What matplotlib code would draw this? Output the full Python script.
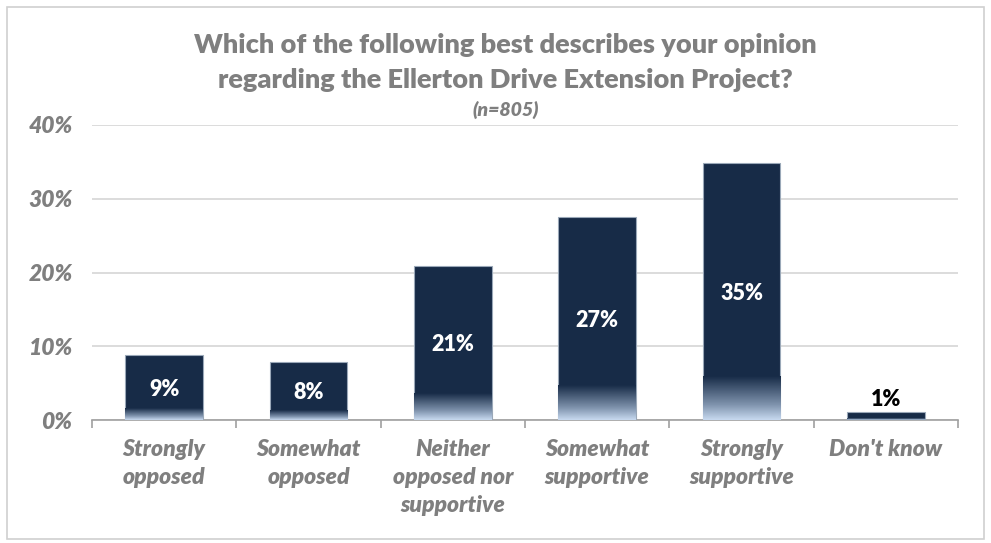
import numpy as np
import matplotlib
matplotlib.use("Agg")
import matplotlib.pyplot as plt
from matplotlib.colors import LinearSegmentedColormap
from matplotlib.patches import Rectangle

categories = ["Strongly\nopposed", "Somewhat\nopposed", "Neither\nopposed nor\nsupportive",
              "Somewhat\nsupportive", "Strongly\nsupportive", "Don't know"]
values = [8.8, 7.8, 20.9, 27.5, 34.8, 1.1]
value_labels = ["9%", "8%", "21%", "27%", "35%", "1%"]
yticks = [0, 10, 20, 30, 40]

NAVY = "#172b47"
LIGHT = "#c8daf0"
GREY = "#7f7f7f"

plt.rcParams["font.family"] = ["Lato", "DejaVu Sans"]

fig = plt.figure(figsize=(9.91, 5.43), dpi=100)
ax = fig.add_axes([0.0928, 0.2265, 0.8739, 0.5433])

# outer chart frame
fig.patches.append(Rectangle((0.007, 0.008), 0.986, 0.98, transform=fig.transFigure,
                             fill=False, edgecolor="#d0d0d0", linewidth=1.2))

x = np.arange(len(values))
bars = ax.bar(x, values, width=0.54, color=NAVY, edgecolor="#9aa8b8", linewidth=0.8, zorder=3)

# bottom fade: dark navy down to light blue over the lower part of each bar
cmap = LinearSegmentedColormap.from_list("fade", [(0, LIGHT), (0.35, "#7f93ad"), (1, NAVY)])
grad = np.linspace(0, 1, 256).reshape(-1, 1)
for bar in bars:
    h = bar.get_height()
    fade_h = h * 0.17
    bx = bar.get_x()
    bw = bar.get_width()
    im = ax.imshow(grad, cmap=cmap, aspect="auto", origin="lower",
                   extent=(bx, bx + bw, 0, fade_h), zorder=3.5)
    im.set_clip_path(bar)

for i, (v, lab) in enumerate(zip(values, value_labels)):
    if v > 5:
        ax.text(i, v / 2 - 0.2, lab, ha="center", va="center", color="white",
                fontsize=15.5, fontweight="heavy", zorder=5)
    else:
        ax.text(i, v + 0.3, lab, ha="center", va="bottom", color="black",
                fontsize=15.5, fontweight="heavy", zorder=5)

ax.set_xlim(-0.5, len(values) - 0.5)
ax.set_ylim(0, 40)
ax.set_yticks(yticks)
ax.set_yticklabels([f"{t}%" for t in yticks], fontsize=16.5, fontstyle="italic",
                   fontweight="heavy", color=GREY)
ax.tick_params(axis="y", length=0, pad=14)
ax.grid(axis="y", color="#d9d9d9", linewidth=1.3, zorder=0)

ax.set_xticks(x)
ax.set_xticklabels(categories, fontsize=16.5, fontstyle="italic", fontweight="heavy",
                   color=GREY, linespacing=1.4)
ax.tick_params(axis="x", which="major", length=0, pad=14)
ax.set_xticks(np.arange(len(values) + 1) - 0.5, minor=True)
ax.tick_params(axis="x", which="minor", length=6, color="#a0a0a0", width=1.2)

for s in ["top", "right", "left"]:
    ax.spines[s].set_visible(False)
ax.spines["bottom"].set_color("#a0a0a0")
ax.spines["bottom"].set_linewidth(1.2)
ax.set_axisbelow(True)

fig.text(0.51, 0.917, "Which of the following best describes your opinion",
         ha="center", va="center", fontsize=19.5, fontweight="heavy", color=GREY)
fig.text(0.51, 0.852, "regarding the Ellerton Drive Extension Project?",
         ha="center", va="center", fontsize=19.5, fontweight="heavy", color=GREY)
fig.text(0.51, 0.797, "(n=805)", ha="center", va="center", fontsize=14,
         fontstyle="italic", fontweight="heavy", color=GREY)

fig.savefig("out.png", dpi=100)
